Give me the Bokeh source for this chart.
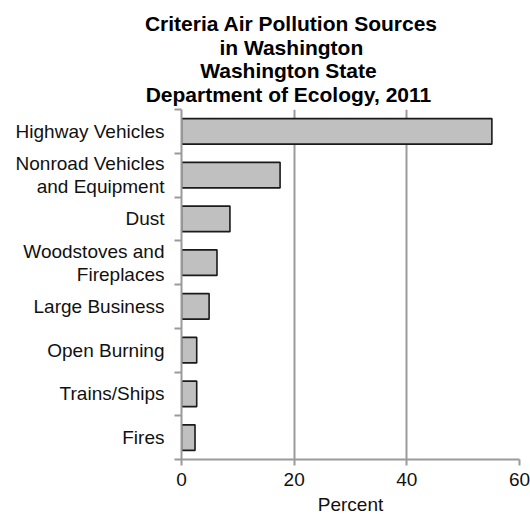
from bokeh.plotting import figure
from bokeh.models import FixedTicker, Range1d, ColumnDataSource, LinearAxis
from bokeh.embed import file_html
from bokeh.resources import INLINE

categories = ["Highway Vehicles", "Nonroad Vehicles\nand Equipment", "Dust",
              "Woodstoves and\nFireplaces", "Large Business", "Open Burning",
              "Trains/Ships", "Fires"]
percent = [55.1, 17.5, 8.6, 6.3, 4.9, 2.7, 2.7, 2.4]
x_ticks = [0, 20, 40, 60]
title_lines = ["Criteria Air Pollution Sources", "in Washington",
               "Washington  State", "Department of Ecology,  2011"]
x_label = "Percent"

n = len(categories)
pos = [n - i for i in range(n)]
src = ColumnDataSource(dict(y=pos, right=percent, label=categories))

FONT = "Liberation Sans"
GRAY = "#9a9a9a"
TXT = "#111111"
TITLE_X = 19.5   # horizontal centre of the title, in x-axis units

p = figure(width=530, height=518,
           min_border_left=181, min_border_right=11,
           min_border_top=109, min_border_bottom=59,
           output_backend="svg", toolbar_location=None,
           x_range=Range1d(0, 60), y_range=Range1d(0.5, n + 0.5))
p.outline_line_color = None
p.background_fill_color = "white"
p.border_fill_color = "white"

p.hbar(y="y", right="right", left=0, height=0.585, source=src,
       fill_color="#c0c0c0", line_color="#1a1a1a", line_width=1.6)

yax = p.yaxis[0]
yax.ticker = FixedTicker(ticks=pos, minor_ticks=[k + 0.5 for k in range(n + 1)])
yax.major_label_overrides = {y: lab for y, lab in zip(pos, categories)}
yax.major_tick_line_color = None
yax.major_tick_out = 0
yax.major_tick_in = 0
yax.minor_tick_out = 7
yax.minor_tick_in = 0
yax.minor_tick_line_color = GRAY
yax.minor_tick_line_width = 2
yax.axis_line_color = GRAY
yax.axis_line_width = 2
yax.major_label_standoff = 10
yax.major_label_text_font = FONT
yax.major_label_text_font_size = "19px"
yax.major_label_text_color = TXT
yax.major_label_text_line_height = 1.1

xax = p.xaxis[0]
xax.ticker = FixedTicker(ticks=x_ticks)
xax.major_tick_out = 6
xax.major_tick_in = 0
xax.major_tick_line_color = GRAY
xax.major_tick_line_width = 2
xax.minor_tick_line_color = None
xax.axis_line_color = GRAY
xax.axis_line_width = 2
xax.major_label_standoff = 7
xax.major_label_text_font = FONT
xax.major_label_text_font_size = "19px"
xax.major_label_text_color = TXT
xax.axis_label = x_label
xax.axis_label_standoff = 5
xax.axis_label_text_font = FONT
xax.axis_label_text_font_size = "19px"
xax.axis_label_text_font_style = "normal"
xax.axis_label_text_color = TXT

p.ygrid.visible = False
p.xgrid.ticker = FixedTicker(ticks=x_ticks)
p.xgrid.grid_line_color = GRAY
p.xgrid.grid_line_width = 2

# Title: the single tick label of an invisible top axis, centred at TITLE_X
tax = LinearAxis(ticker=FixedTicker(ticks=[TITLE_X]),
                 axis_line_color=None, major_tick_line_color=None,
                 minor_tick_line_color=None, major_tick_out=0, major_tick_in=0,
                 minor_tick_out=0, minor_tick_in=0, major_label_standoff=4,
                 major_label_overrides={TITLE_X: "\n".join(title_lines)},
                 major_label_text_font=FONT,
                 major_label_text_font_style="bold",
                 major_label_text_font_size="21px",
                 major_label_text_line_height=1.02,
                 major_label_text_color="black")
p.add_layout(tax, "above")

open("out.html", "w").write(file_html(p, INLINE))
